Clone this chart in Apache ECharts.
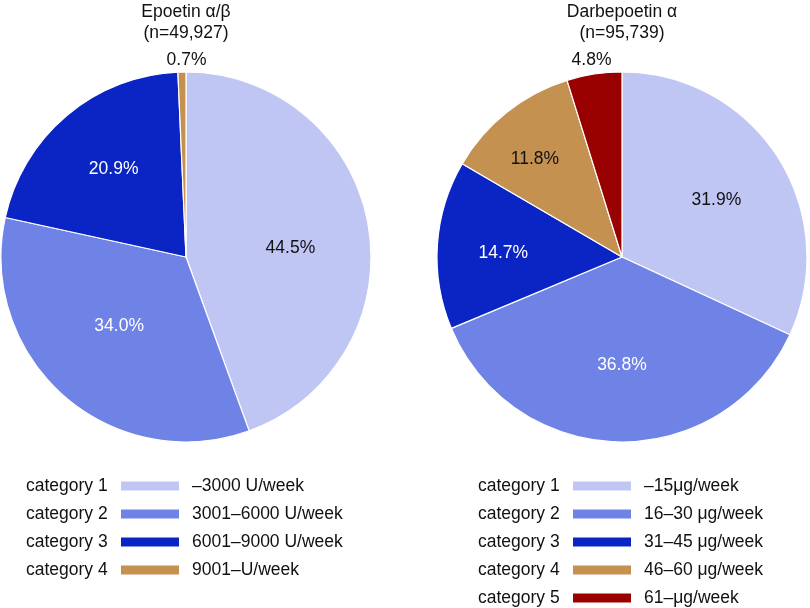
<!DOCTYPE html>
<html>
<head>
<meta charset="utf-8">
<script src="https://cdn.jsdelivr.net/npm/echarts@6/dist/echarts.min.js"></script>
<style>
html,body{margin:0;padding:0;background:#fff;}
#chart{width:810px;height:608px;}
</style>
</head>
<body>
<div id="chart"></div>
<script>
// ---- data ----
const epoTitle = 'Epoetin α/β';
const epoN = '(n=49,927)';
const epoLabels = ['\u20133000 U/week', '3001\u20136000 U/week', '6001\u20139000 U/week', '9001\u2013U/week'];
const epoValues = [44.5, 34.0, 20.9, 0.7];

const darbTitle = 'Darbepoetin α';
const darbN = '(n=95,739)';
const darbLabels = ['\u201315\u03bcg/week', '16\u201330 \u03bcg/week', '31\u201345 \u03bcg/week', '46\u201360 \u03bcg/week', '61\u2013\u03bcg/week'];
const darbValues = [31.9, 36.8, 14.7, 11.8, 4.8];

const categoryNames = ['category 1', 'category 2', 'category 3', 'category 4', 'category 5'];

// ---- style ----
const colors = ['#c0c6f4', '#6f82e6', '#0b24c4', '#c49150', '#990000'];
const FONT = 'Liberation Sans, Arial, Helvetica, sans-serif';
const FS = 17.5;
const R = 185;
const pies = [
  { title: epoTitle, n: epoN, labels: epoLabels, values: epoValues, center: [186, 257],
    labelR: [104, 97, 114, 199], labelColor: ['#111', '#fff', '#fff', '#111'],
    labelOffset: [[-1, 10], [-1, -6], [3, 2], [5, 5]],
    catLeft: 21, boxLeft: 119 },
  { title: darbTitle, n: darbN, labels: darbLabels, values: darbValues, center: [622, 257],
    labelR: [109, 106, 119, 132, 200], labelColor: ['#111', '#fff', '#fff', '#111', '#111'],
    labelOffset: [[0, 3], [2, -1], [3, 4], [-3, 8], [0, 4]],
    catLeft: 473, boxLeft: 571 }
];

const series = [];
const legends = [];
const titles = [];

pies.forEach((p, pi) => {
  const data = p.values.map((v, i) => ({ name: p.labels[i], value: v, itemStyle: { color: colors[i] } }));
  series.push({
    type: 'pie', center: p.center, radius: [0, R], startAngle: 90, clockwise: true,
    animation: false, silent: true,
    label: { show: false }, labelLine: { show: false },
    itemStyle: { borderColor: '#fff', borderWidth: 1.2 },
    data: data
  });
  // label overlays: a transparent ring per label, whose mid radius is the label distance
  p.values.forEach((v, li) => {
    const rl = p.labelR[li];
    series.push({
      type: 'pie', center: p.center, radius: [rl - 8, rl + 8], startAngle: 90, clockwise: true,
      animation: false, silent: true, z: 5,
      labelLine: { show: false },
      itemStyle: { color: 'rgba(0,0,0,0)', borderWidth: 0 },
      data: p.values.map((vv, i) => ({
        name: p.labels[i], value: vv,
        label: {
          show: i === li, position: 'inside', formatter: vv.toFixed(1) + '%',
          color: p.labelColor[i], fontSize: FS, fontFamily: FONT,
          textBorderWidth: 0, offset: p.labelOffset[i]
        }
      }))
    });
  });
  titles.push({
    text: p.title + '\n' + p.n, left: p.center[0], top: 2, textAlign: 'center', padding: 0,
    textStyle: { fontSize: FS, fontWeight: 'normal', color: '#111', fontFamily: FONT, lineHeight: 21 }
  });
  // color boxes + range labels
  legends.push({
    orient: 'vertical', left: p.boxLeft, top: 477, align: 'left', selectedMode: false, padding: 0,
    icon: 'rect', itemWidth: 60, itemHeight: 11, itemGap: 10, height: 131,
    data: p.labels,
    textStyle: { fontSize: FS, color: '#111', fontFamily: FONT, lineHeight: 18, padding: [0, 0, 0, 7] }
  });
  // category names
  const catMap = {};
  p.labels.forEach((l, i) => { catMap[l] = categoryNames[i]; });
  legends.push({
    orient: 'vertical', left: p.catLeft, top: 477, align: 'left', selectedMode: false, padding: 0,
    icon: 'none', itemWidth: 0, itemHeight: 11, itemGap: 10, height: 131,
    data: p.labels,
    formatter: (name) => catMap[name],
    textStyle: { fontSize: FS, color: '#111', fontFamily: FONT, lineHeight: 18 }
  });
});

const chart = echarts.init(document.getElementById('chart'), null, { renderer: 'canvas' });
chart.setOption({
  backgroundColor: '#fff',
  animation: false,
  title: titles,
  legend: legends,
  series: series
});
</script>
</body>
</html>
